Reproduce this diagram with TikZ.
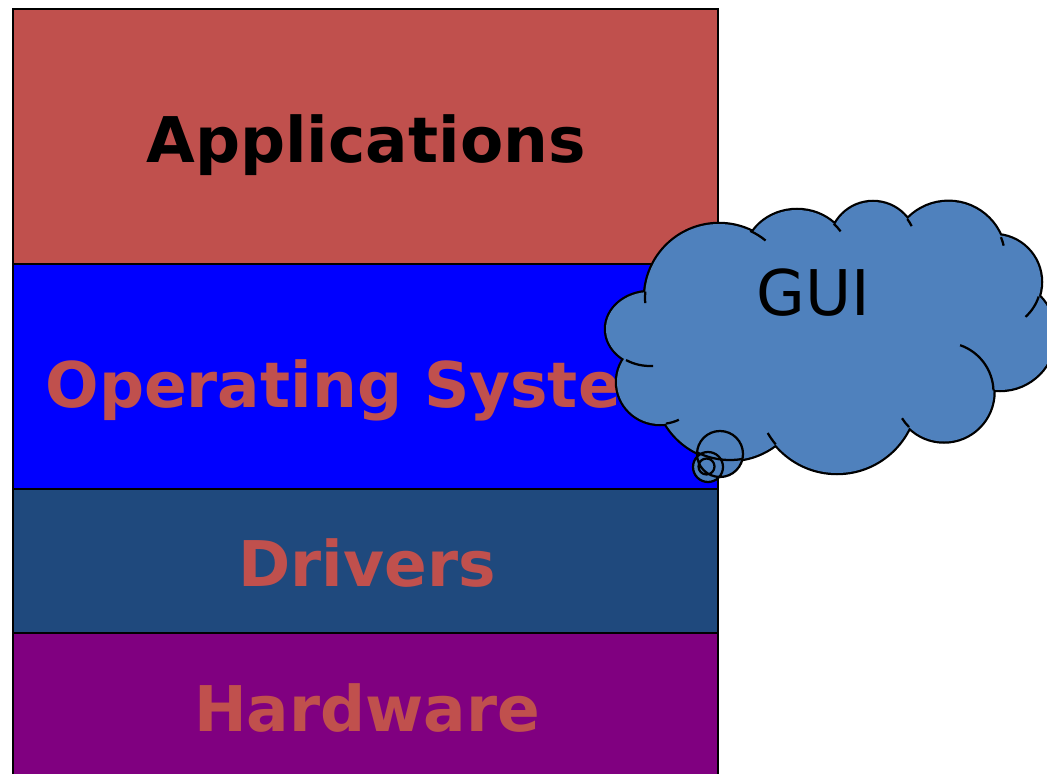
\documentclass[tikz,border=0pt]{standalone}
\usepackage{fontspec}
\setmainfont{DejaVu Sans}
\definecolor{appred}{HTML}{C0504D}
\definecolor{osblue}{HTML}{0000FF}
\definecolor{drvblue}{HTML}{1F497D}
\definecolor{hwpurple}{HTML}{800080}
\definecolor{cloudblue}{HTML}{4F81BD}
\tikzset{
  layer/.style={draw=black, line width=1.4pt},
  layerlabel/.style={font=\fontsize{44.8}{50}\selectfont\bfseries, text=appred, anchor=base, inner sep=0pt},
  cloudline/.style={draw=black, line width=1.6pt},
  cloudedge/.style={draw=black, line width=3.2pt}
}
% puffs of the cloud, in pixel units (y downwards, negated)
\newcommand\cloudpuffs{
  (719,-298) circle[radius=74]
  (797,-257) ellipse[x radius=52, y radius=47]
  (873,-245) circle[radius=43]
  (948.5,-258.4) circle[radius=56.6]
  (994,-282) circle[radius=47]
  (1000,-335) circle[radius=55]
  (944,-392) circle[radius=49.5]
  (837,-393) circle[radius=80]
  (730,-385) circle[radius=75]
  (660,-382) ellipse[x radius=43, y radius=42]
  (650,-329) ellipse[x radius=44, y radius=37]
}
\begin{document}
\begin{tikzpicture}[x=0.025cm, y=0.025cm]
  \useasboundingbox (0,0) rectangle (1047,-774);
  \clip (0,0) rectangle (1047,-774);

  % the four layers
  \filldraw[layer, fill=appred] (13,-9) rectangle (718,-264);
  \filldraw[layer, fill=osblue] (13,-264) rectangle (718,-489);
  \filldraw[layer, fill=drvblue] (13,-489) rectangle (718,-633);
  \filldraw[layer, fill=hwpurple] (13,-633) rectangle (718,-800);
  \node[layerlabel, text=black] (apps) at (366,-163) {Applications};
  \node[layerlabel] (os) at (366,-407) {Operating System};
  \node[layerlabel] (drivers) at (367,-586) {Drivers};
  \node[layerlabel] (hardware) at (367,-731) {Hardware};

  % cloud: outline, fill, then the inner strokes
  \draw[cloudedge] \cloudpuffs;
  \fill[cloudblue] \cloudpuffs;
  \fill[cloudblue] (719,-298) -- (797,-257) -- (873,-245) -- (948.5,-258.4) -- (994,-282)
    -- (1000,-335) -- (944,-392) -- (837,-393) -- (730,-385) -- (660,-382) -- (650,-329) -- cycle;
  \begin{scope}[cloudline]
    \draw ([shift={(65:74)}]719,-298) arc[start angle=65, end angle=51, radius=74];
    \draw ([shift={(175:74)}]719,-298) arc[start angle=175, end angle=184, radius=74];
    \draw ([shift={(45:52 and 47)}]797,-257) arc[start angle=45, end angle=33, x radius=52, y radius=47];
    \draw ([shift={(37:43)}]873,-245) arc[start angle=37, end angle=26, radius=43];
    \draw ([shift={(22:56.6)}]948.5,-258.4) arc[start angle=22, end angle=13, radius=56.6];
    \draw ([shift={(-18:47)}]994,-282) arc[start angle=-18, end angle=-48, radius=47];
    \draw ([shift={(2:49.5)}]944,-392) arc[start angle=2, end angle=71, radius=49.5];
    \draw ([shift={(225:49.5)}]944,-392) arc[start angle=225, end angle=212, radius=49.5];
    \draw ([shift={(220:80)}]837,-393) arc[start angle=220, end angle=210, radius=80];
    \draw ([shift={(-82:43 and 42)}]660,-382) arc[start angle=-82, end angle=-64, x radius=43, y radius=42];
    \draw ([shift={(237:44 and 37)}]650,-329) arc[start angle=237, end angle=274, x radius=44, y radius=37];
  \end{scope}

  % thought bubbles
  \fill[cloudblue] (720,-454) circle[radius=23] (708,-467) circle[radius=15] (706.5,-466.5) circle[radius=8];
  \begin{scope}
    \clip (720,-454) circle[radius=23] (708,-467) circle[radius=15];
    \draw[cloudline] (730,-385) circle[radius=75];
  \end{scope}
  \draw[cloudline] (720,-454) circle[radius=23] (708,-467) circle[radius=15] (706.5,-466.5) circle[radius=8];

  \node[font=\fontsize{44.8}{50}\selectfont, anchor=base, inner sep=0pt] (gui) at (813,-316) {GUI};
\end{tikzpicture}
\end{document}
